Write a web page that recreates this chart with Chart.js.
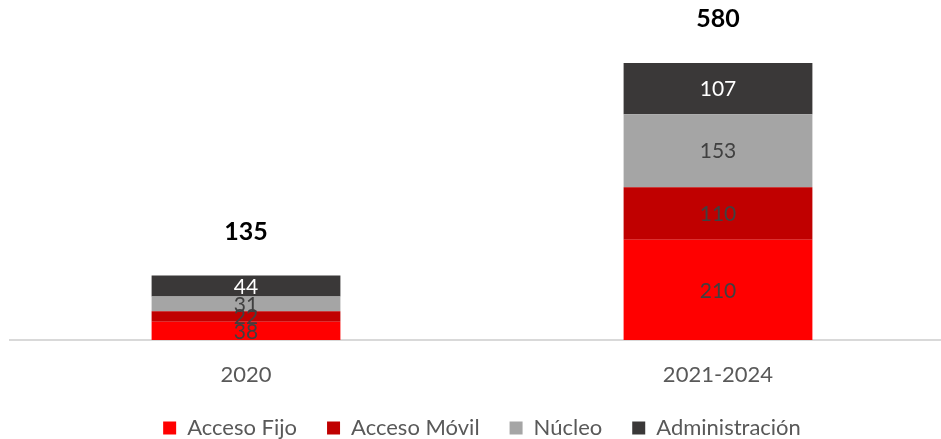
<!DOCTYPE html>
<html>
<head>
<meta charset="utf-8">
<script src="https://cdn.jsdelivr.net/npm/chart.js@4"></script>
<style>
html,body{margin:0;padding:0;background:#fff;overflow:hidden;}
#wrap{position:relative;width:964px;height:439px;}
</style>
</head>
<body>
<div id="wrap"><canvas id="c" width="964" height="439"></canvas></div>
<script>
const categories = ['2020', '2021-2024'];
const seriesNames = ['Acceso Fijo', 'Acceso Móvil', 'Núcleo', 'Administración'];
const accesoFijo = [38, 210];
const accesoMovil = [22, 110];
const nucleo = [31, 153];
const administracion = [44, 107];
const totals = [135, 580];

const colors = ['#FF0000', '#C00000', '#A5A5A5', '#3A3838'];
const labelColors = ['#404040', '#404040', '#404040', '#FFFFFF'];
const seriesValues = [accesoFijo, accesoMovil, nucleo, administracion];

const FONT = 'Lato, "Open Sans", sans-serif';

const labelPlugin = {
  id: 'labels',
  afterDatasetsDraw(chart) {
    const ctx = chart.ctx;
    ctx.save();
    ctx.textAlign = 'center';
    ctx.textBaseline = 'middle';
    chart.data.datasets.forEach((ds, di) => {
      const meta = chart.getDatasetMeta(di);
      meta.data.forEach((el, i) => {
        ctx.fillStyle = labelColors[di];
        ctx.font = '21px ' + FONT;
        ctx.fillText(String(ds.data[i]), el.x, (el.y + el.base) / 2 + 1);
      });
    });
    const y = chart.scales.y;
    const meta0 = chart.getDatasetMeta(0);
    ctx.fillStyle = '#000000';
    ctx.font = 'bold 25px ' + FONT;
    totals.forEach((t, i) => {
      ctx.fillText(String(t), meta0.data[i].x, y.getPixelForValue(t) - 44);
    });
    ctx.restore();
  }
};

new Chart(document.getElementById('c'), {
  type: 'bar',
  data: {
    labels: categories,
    datasets: seriesNames.map((n, i) => ({
      label: n,
      data: seriesValues[i],
      backgroundColor: colors[i],
      borderWidth: 0,
      categoryPercentage: 1,
      barPercentage: 0.4
    }))
  },
  options: {
    responsive: false,
    animation: false,
    layout: { padding: { left: 10, right: 10, top: 0, bottom: -10 } },
    plugins: {
      legend: {
        position: 'bottom',
        labels: {
          boxWidth: 13, boxHeight: 13, padding: 30,
          color: '#595959',
          font: { size: 22, family: FONT }
        }
      },
      tooltip: { enabled: false }
    },
    scales: {
      x: {
        stacked: true,
        grid: { display: false, drawTicks: false },
        border: { display: true, color: '#D9D9D9', width: 2 },
        ticks: { color: '#595959', font: { size: 22, family: FONT }, padding: 21.5 },
        afterFit(scale) { scale.height = 47; }
      },
      y: {
        stacked: true,
        display: false,
        min: 0,
        max: 712
      }
    }
  },
  plugins: [labelPlugin]
});
</script>
</body>
</html>
